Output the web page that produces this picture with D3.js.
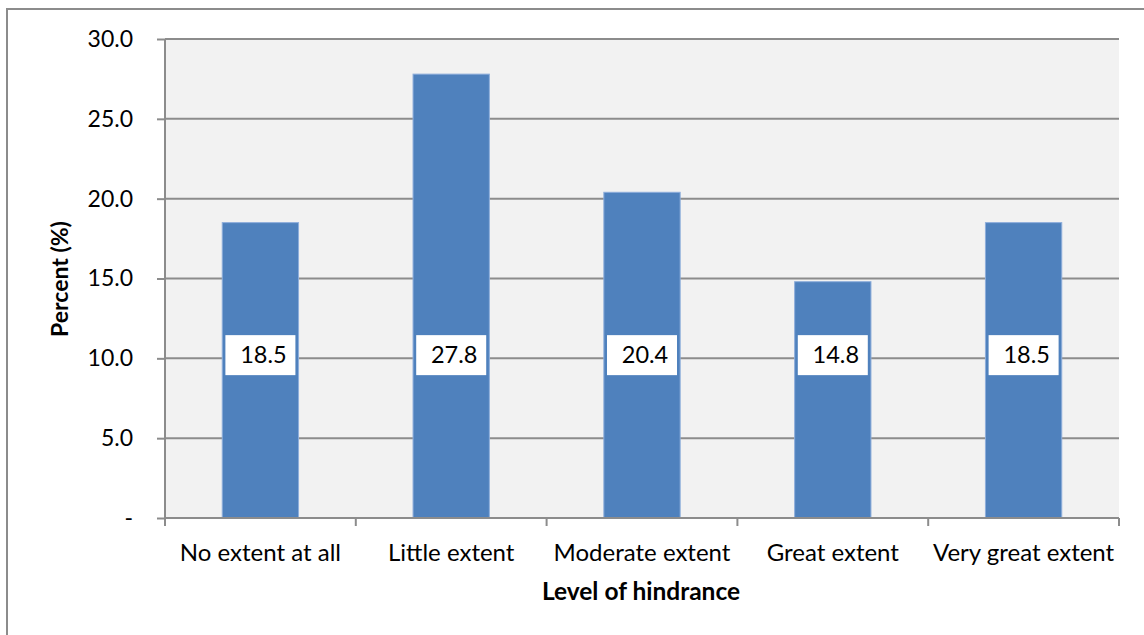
<!DOCTYPE html>
<html>
<head>
<meta charset="utf-8">
<script src="https://cdn.jsdelivr.net/npm/d3@7"></script>
<style>
  html, body { margin: 0; padding: 0; background: #ffffff; }
  svg { display: block; }
  text { font-family: Lato, "Open Sans", sans-serif; fill: #000; }
</style>
</head>
<body>
<svg id="chart" width="1144" height="635"></svg>
<script>
// Level of hindrance responses (percent)
const categories = ["No extent at all", "Little extent", "Moderate extent", "Great extent", "Very great extent"];
const percents = [18.5, 27.8, 20.4, 14.8, 18.5];
const yTicks = [0, 5, 10, 15, 20, 25, 30];
const yTitle = "Percent (%)";
const xTitle = "Level of hindrance";

const svg = d3.select("#chart");
const W = 1144, H = 635;
const plot = { left: 165, top: 39, right: 1119, bottom: 518 };
const gridColor = "#8c8c8c";

// outer chart frame
svg.append("rect")
  .attr("x", 7).attr("y", 9)
  .attr("width", W + 20).attr("height", H + 20)
  .attr("fill", "#fff")
  .attr("stroke", gridColor).attr("stroke-width", 2);

const x = d3.scaleBand().domain(categories)
  .range([plot.left, plot.right]).paddingInner(0.6).paddingOuter(0.3);
const y = d3.scaleLinear().domain([0, 30]).range([plot.bottom, plot.top]);

// plot background
svg.append("rect")
  .attr("x", plot.left).attr("y", plot.top)
  .attr("width", plot.right - plot.left).attr("height", plot.bottom - plot.top)
  .attr("fill", "#f2f2f2");

// horizontal gridlines
svg.append("g").selectAll("line").data(yTicks.filter(d => d > 0)).join("line")
  .attr("x1", plot.left).attr("x2", plot.right)
  .attr("y1", d => y(d)).attr("y2", d => y(d))
  .attr("stroke", gridColor).attr("stroke-width", 2);

// y axis
const yAxis = svg.append("g")
  .attr("transform", `translate(${plot.left},0)`)
  .call(d3.axisLeft(y).tickValues(yTicks).tickSize(8).tickPadding(24)
    .tickFormat(d => d === 0 ? "-" : d3.format(".1f")(d)));
yAxis.select(".domain").attr("stroke", gridColor).attr("stroke-width", 2)
  .attr("d", `M0,${plot.top}V${plot.bottom}`);
yAxis.selectAll(".tick line").attr("stroke", gridColor).attr("stroke-width", 2);
yAxis.selectAll(".tick text")
  .attr("font-family", "Lato, 'Open Sans', sans-serif")
  .attr("font-size", 23).attr("fill", "#000");

// bars
svg.append("g").selectAll("rect").data(percents).join("rect")
  .attr("x", (d, i) => x(categories[i]))
  .attr("y", d => y(d))
  .attr("width", x.bandwidth())
  .attr("height", d => y(0) - y(d))
  .attr("fill", "#4f81bd")
  .attr("stroke", "#8eaedb").attr("stroke-width", 1);

// x axis with ticks at category boundaries
const xg = svg.append("g");
xg.append("line")
  .attr("x1", plot.left).attr("x2", plot.right)
  .attr("y1", plot.bottom).attr("y2", plot.bottom)
  .attr("stroke", gridColor).attr("stroke-width", 2);
const step = (plot.right - plot.left) / categories.length;
xg.selectAll("line.tk").data(d3.range(categories.length + 1)).join("line")
  .attr("class", "tk")
  .attr("x1", i => plot.left + i * step).attr("x2", i => plot.left + i * step)
  .attr("y1", plot.bottom).attr("y2", plot.bottom + 8)
  .attr("stroke", gridColor).attr("stroke-width", 2);
xg.selectAll("text").data(categories).join("text")
  .attr("x", d => x(d) + x.bandwidth() / 2)
  .attr("y", 561)
  .attr("text-anchor", "middle")
  .attr("font-size", 24)
  .text(d => d);

// value labels in white boxes
const labelY = y(10.2);
const lab = svg.append("g").selectAll("g").data(percents).join("g")
  .attr("transform", (d, i) => `translate(${x(categories[i]) + x.bandwidth() / 2},${labelY})`);
lab.append("rect")
  .attr("x", -35).attr("y", -20).attr("width", 70).attr("height", 40)
  .attr("fill", "#fff");
lab.append("text")
  .attr("x", 3).attr("y", 8)
  .attr("text-anchor", "middle")
  .attr("font-size", 23.5)
  .text(d => d3.format(".1f")(d));

// axis titles
svg.append("text")
  .attr("transform", "translate(68,279) rotate(-90)")
  .attr("text-anchor", "middle")
  .attr("font-size", 23).attr("font-weight", "bold")
  .text(yTitle);
svg.append("text")
  .attr("x", 641).attr("y", 600)
  .attr("text-anchor", "middle")
  .attr("font-size", 24.5).attr("font-weight", "bold")
  .text(xTitle);
</script>
</body>
</html>
